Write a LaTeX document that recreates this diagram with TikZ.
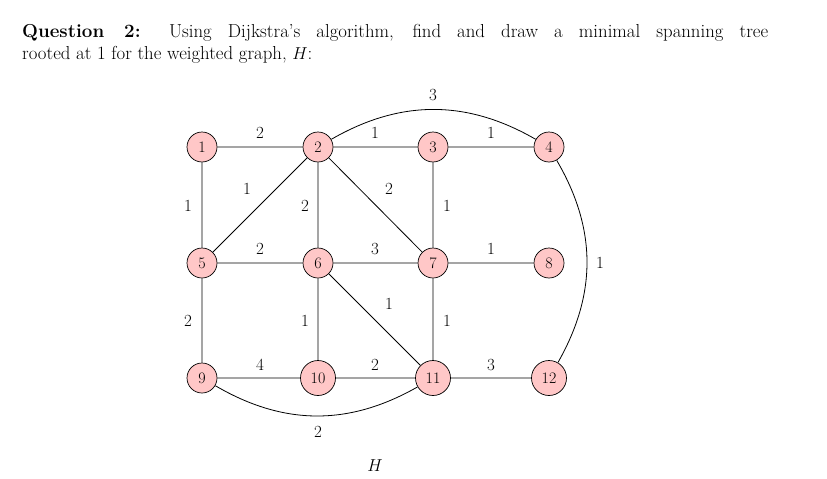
\documentclass[tikz,border=0pt]{standalone}
\begin{document}
\begin{tikzpicture}[x=1pt,y=-1pt,
  vert/.style={circle,draw,fill=red!22,minimum size=30pt,inner sep=0pt,line width=0.7pt,font=\fontsize{16}{16}\selectfont},
  big/.style={minimum size=35pt},
  lbl/.style={font=\fontsize{17}{17}\selectfont}]
\useasboundingbox (0,0) rectangle (827,479);
\node[anchor=north west,text width=746pt,align=justify,inner sep=0pt,font=\fontsize{18.8}{22}\selectfont] (q) at (22,24)
 {\textbf{Question 2:} Using Dijkstra's algorithm, find and draw a minimal spanning tree\linebreak rooted at 1 for the weighted graph, $H$:};
\node[vert] (n1) at (202,147) {1};
\node[vert] (n2) at (318,147) {2};
\node[vert] (n3) at (433,147) {3};
\node[vert] (n4) at (549,147) {4};
\node[vert] (n5) at (202,263) {5};
\node[vert] (n6) at (318,263) {6};
\node[vert] (n7) at (433,263) {7};
\node[vert] (n8) at (549,263) {8};
\node[vert] (n9) at (202,378) {9};
\node[vert,big] (n10) at (318,378) {10};
\node[vert,big] (n11) at (433,378) {11};
\node[vert,big] (n12) at (549,378) {12};
\draw[line width=0.8pt] (n1) -- (n2) (n2) -- (n3) (n3) -- (n4)
 (n1) -- (n5) (n2) -- (n5) (n2) -- (n6) (n2) -- (n7) (n3) -- (n7)
 (n5) -- (n6) (n6) -- (n7) (n7) -- (n8)
 (n5) -- (n9) (n6) -- (n10) (n6) -- (n11) (n7) -- (n11)
 (n9) -- (n10) (n10) -- (n11) (n11) -- (n12);
\draw[line width=0.8pt] (n2) to[bend left=30] (n4);
\draw[line width=0.8pt] (n4) to[bend left=30] (n12);
\draw[line width=0.8pt] (n9) to[bend right=30] (n11);
\node[lbl] (l1) at (260,133) {2};
\node[lbl] (l2) at (375,133) {1};
\node[lbl] (l3) at (491,133) {1};
\node[lbl] (l4) at (433,95) {3};
\node[lbl] (l5) at (188,206) {1};
\node[lbl] (l6) at (247,189) {1};
\node[lbl] (l7) at (305,206) {2};
\node[lbl] (l8) at (389,189) {2};
\node[lbl] (l9) at (447,206) {1};
\node[lbl] (l10) at (600,263) {1};
\node[lbl] (l11) at (260,249) {2};
\node[lbl] (l12) at (375,249) {3};
\node[lbl] (l13) at (491,249) {1};
\node[lbl] (l14) at (188,321) {2};
\node[lbl] (l15) at (305,321) {1};
\node[lbl] (l16) at (389,304) {1};
\node[lbl] (l17) at (447,321) {1};
\node[lbl] (l18) at (260,365) {4};
\node[lbl] (l19) at (375,365) {2};
\node[lbl] (l20) at (491,365) {3};
\node[lbl] (l21) at (318,432) {2};
\node[lbl] (h) at (375,466) {$H$};
\end{tikzpicture}
\end{document}
